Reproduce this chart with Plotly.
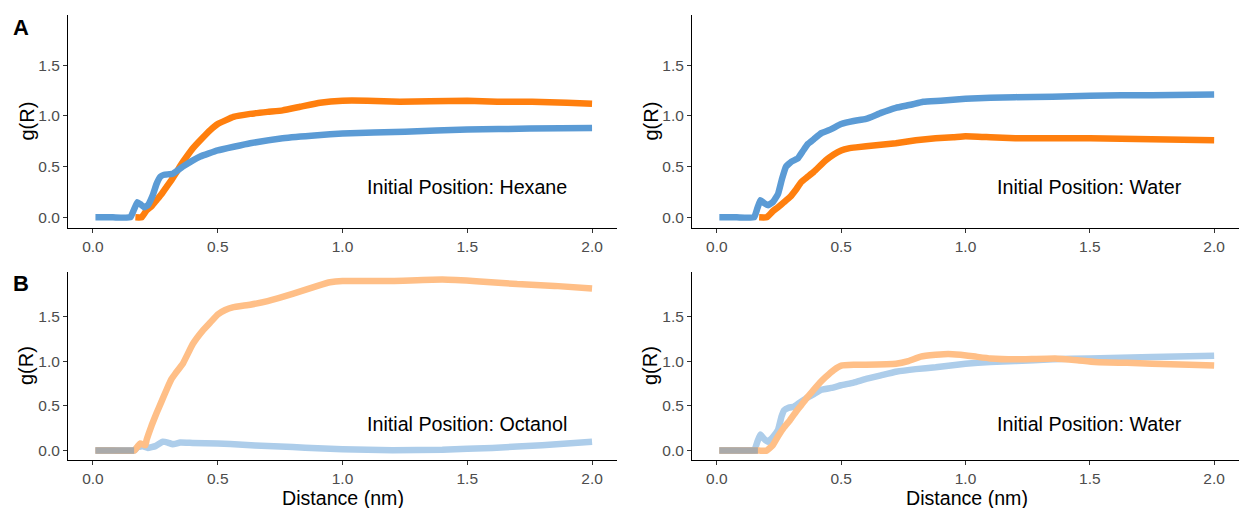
import plotly.graph_objects as go

# ---------------- data ----------------
# Panel A, Initial Position: Hexane
hex_orange_x = [0.17, 0.195, 0.215, 0.235, 0.255, 0.275, 0.295, 0.315, 0.336, 0.356, 0.376, 0.4, 0.43, 0.47, 0.5,
                0.563, 0.63, 0.7, 0.76, 0.83, 0.91, 1.0, 1.1, 1.23, 1.35, 1.5, 1.62, 1.76, 1.9, 2.0]
hex_orange_y = [0, 0, 0.07, 0.11, 0.17, 0.23, 0.3, 0.37, 0.45, 0.53, 0.6, 0.68, 0.76, 0.86, 0.92,
                0.99, 1.02, 1.04, 1.055, 1.09, 1.13, 1.15, 1.15, 1.14, 1.145, 1.15, 1.14, 1.14, 1.13, 1.12]
hex_blue_x = [0.01, 0.08, 0.15, 0.165, 0.178, 0.19, 0.205, 0.22, 0.24, 0.255, 0.27, 0.285, 0.32, 0.36, 0.43, 0.5,
              0.63, 0.76, 0.9, 1.0, 1.25, 1.5, 1.75, 2.0]
hex_blue_y = [0, 0, 0, 0.08, 0.15, 0.13, 0.1, 0.12, 0.22, 0.33, 0.4, 0.42, 0.43, 0.5, 0.6, 0.66,
              0.73, 0.78, 0.81, 0.826, 0.845, 0.865, 0.875, 0.88]

# Panel A, Initial Position: Water
wat_orange_x = [0.17, 0.2, 0.225, 0.246, 0.27, 0.294, 0.32, 0.34, 0.365, 0.39, 0.437, 0.47, 0.5, 0.53, 0.56,
                0.64, 0.72, 0.8, 0.88, 0.95, 1.0, 1.1, 1.2, 1.35, 1.5, 1.75, 2.0]
wat_orange_y = [0, 0, 0.06, 0.1, 0.15, 0.2, 0.28, 0.35, 0.4, 0.45, 0.56, 0.62, 0.66, 0.68, 0.69,
                0.71, 0.73, 0.76, 0.78, 0.79, 0.8, 0.79, 0.78, 0.78, 0.78, 0.77, 0.76]
wat_blue_x = [0.01, 0.08, 0.15, 0.163, 0.175, 0.19, 0.206, 0.225, 0.246, 0.262, 0.278, 0.3, 0.325, 0.345, 0.365, 0.39,
              0.42, 0.46, 0.5, 0.55, 0.6, 0.66, 0.72, 0.78, 0.83, 0.9, 1.0, 1.1, 1.2, 1.35, 1.5, 1.75, 2.0]
wat_blue_y = [0, 0, 0, 0.09, 0.17, 0.14, 0.12, 0.15, 0.23, 0.38, 0.5, 0.55, 0.58, 0.65, 0.72, 0.77,
              0.83, 0.87, 0.92, 0.95, 0.97, 1.03, 1.08, 1.11, 1.14, 1.15, 1.17, 1.18, 1.185, 1.19, 1.2, 1.205, 1.21]

# Panel B, Initial Position: Octanol
oct_orange_x = [0.01, 0.08, 0.165, 0.18, 0.19, 0.2, 0.21, 0.215, 0.235, 0.255, 0.275, 0.295, 0.315, 0.33, 0.36, 0.4,
                0.44, 0.47, 0.5, 0.53, 0.56, 0.63, 0.7, 0.8, 0.9, 0.95, 1.0, 1.2, 1.4, 1.55, 1.7, 1.85, 2.0]
oct_orange_y = [0, 0, 0, 0.05, 0.08, 0.07, 0.06, 0.12, 0.28, 0.42, 0.55, 0.68, 0.8, 0.86, 0.97, 1.19,
                1.34, 1.43, 1.52, 1.57, 1.6, 1.63, 1.67, 1.75, 1.84, 1.88, 1.895, 1.895, 1.91, 1.89, 1.86, 1.84, 1.81]
oct_blue_x = [0.01, 0.08, 0.165, 0.18, 0.2, 0.22, 0.25, 0.28, 0.3, 0.32, 0.35, 0.4, 0.5, 0.6, 0.7, 0.8, 0.9,
              1.0, 1.2, 1.4, 1.6, 1.8, 2.0]
oct_blue_y = [0, 0, 0, 0.04, 0.05, 0.03, 0.05, 0.1, 0.09, 0.07, 0.09, 0.085, 0.08, 0.065, 0.05, 0.04, 0.025,
              0.015, 0.005, 0.01, 0.03, 0.06, 0.1]

# Panel B, Initial Position: Water
bw_orange_x = [0.01, 0.08, 0.17, 0.2, 0.225, 0.246, 0.27, 0.294, 0.32, 0.34, 0.365, 0.39, 0.415, 0.437, 0.47, 0.5, 0.55,
               0.6, 0.72, 0.77, 0.82, 0.88, 0.93, 0.98, 1.04, 1.1, 1.2, 1.36, 1.45, 1.52, 1.65, 1.75, 1.9, 2.0]
bw_orange_y = [0, 0, 0, 0, 0.06, 0.16, 0.26, 0.34, 0.44, 0.51, 0.6, 0.68, 0.76, 0.82, 0.9, 0.95, 0.96,
               0.96, 0.97, 1.0, 1.05, 1.07, 1.08, 1.07, 1.05, 1.03, 1.02, 1.03, 1.01, 0.99, 0.98, 0.97, 0.96, 0.95]
bw_blue_x = [0.01, 0.08, 0.15, 0.163, 0.175, 0.19, 0.206, 0.225, 0.246, 0.26, 0.27, 0.29, 0.31, 0.33, 0.357, 0.39,
             0.42, 0.46, 0.5, 0.55, 0.6, 0.66, 0.72, 0.8, 0.88, 1.0, 1.1, 1.2, 1.35, 1.5, 1.75, 2.0]
bw_blue_y = [0, 0, 0, 0.1, 0.18, 0.13, 0.1, 0.15, 0.23, 0.38, 0.45, 0.48, 0.49, 0.53, 0.58, 0.63,
             0.68, 0.7, 0.73, 0.76, 0.8, 0.84, 0.88, 0.91, 0.93, 0.97, 0.99, 1.0, 1.02, 1.03, 1.045, 1.06]

# overlapping zero region of the two transparent curves (shows grey)
overlap_x = [0.01, 0.165]
overlap_y = [0, 0]

x_ticks = [0, 0.5, 1.0, 1.5, 2.0]
y_ticks = [0, 0.5, 1.0, 1.5]
panel_labels = ["Initial Position: Hexane", "Initial Position: Water",
                "Initial Position: Octanol", "Initial Position: Water"]

# ---------------- style ----------------
ORANGE = "#FF7F0E"
BLUE = "#5B9BD5"
ORANGE_L = "#FFBF87"
BLUE_L = "#ADCDEA"
GREY = "#AAAAAA"
FONT = "Liberation Sans, Arial, sans-serif"
W, H = 1241, 508
LW = 6.5

fig = go.Figure()

def add(x, y, color, xa, ya, name):
    fig.add_trace(go.Scatter(x=x, y=y, mode="lines", name=name,
                             line=dict(color=color, width=LW, shape="spline", smoothing=0.3),
                             xaxis=xa, yaxis=ya, showlegend=False, hoverinfo="skip"))

add(hex_orange_x, hex_orange_y, ORANGE, "x", "y", "orange")
add(hex_blue_x, hex_blue_y, BLUE, "x", "y", "blue")
add(wat_orange_x, wat_orange_y, ORANGE, "x2", "y2", "orange")
add(wat_blue_x, wat_blue_y, BLUE, "x2", "y2", "blue")
add(oct_blue_x, oct_blue_y, BLUE_L, "x3", "y3", "blue")
add(oct_orange_x, oct_orange_y, ORANGE_L, "x3", "y3", "orange")
add(overlap_x, overlap_y, GREY, "x3", "y3", "overlap")
add(bw_blue_x, bw_blue_y, BLUE_L, "x4", "y4", "blue")
add(bw_orange_x, bw_orange_y, ORANGE_L, "x4", "y4", "orange")
add(overlap_x, overlap_y, GREY, "x4", "y4", "overlap")

xl = [68 / W, 617 / W]
xr = [692 / W, 1239 / W]
yt = [(H - 228) / H, (H - 15) / H]
yb = [(H - 460) / H, (H - 272) / H]

TICKFONT = dict(family=FONT, size=15.5, color="#4D4D4D")

def xax(dom, anchor):
    return dict(domain=dom, anchor=anchor, range=[-0.1, 2.1], tickvals=x_ticks, tickformat=".1f",
                showline=True, linecolor="black", linewidth=1.1, ticks="outside", ticklen=4,
                tickcolor="#333333", showgrid=False, zeroline=False, tickfont=TICKFONT)

def yax(dom, anchor):
    return dict(domain=dom, anchor=anchor, range=[-0.105, 1.995], tickvals=y_ticks, tickformat=".1f",
                showline=True, linecolor="black", linewidth=1.1, ticks="outside", ticklen=4,
                tickcolor="#333333", showgrid=False, zeroline=False, tickfont=TICKFONT)

annotations = []
for i, (xa, ya) in enumerate([("x", "y"), ("x2", "y2"), ("x3", "y3"), ("x4", "y4")]):
    annotations.append(dict(x=1.5, y=0.3, xref=xa, yref=ya, text=panel_labels[i], showarrow=False,
                            font=dict(family=FONT, size=19.7, color="black"),
                            xanchor="center", yanchor="middle"))

for xp in [26, 650]:
    for dom in [yt, yb]:
        annotations.append(dict(x=xp / W, y=(dom[0] + dom[1]) / 2, xref="paper", yref="paper",
                                text="g(R)", textangle=-90, showarrow=False,
                                font=dict(family=FONT, size=20, color="black"),
                                xanchor="center", yanchor="middle"))
for xp in [343, 967]:
    annotations.append(dict(x=xp / W, y=(H - 498) / H, xref="paper", yref="paper",
                            text="Distance (nm)", showarrow=False,
                            font=dict(family=FONT, size=19.6, color="black"),
                            xanchor="center", yanchor="middle"))
for lab, yp in [("A", 27), ("B", 283)]:
    annotations.append(dict(x=21 / W, y=(H - yp) / H, xref="paper", yref="paper",
                            text="<b>%s</b>" % lab, showarrow=False,
                            font=dict(family=FONT, size=22, color="black"),
                            xanchor="center", yanchor="middle"))

fig.update_layout(
    width=W, height=H, margin=dict(l=0, r=0, t=0, b=0),
    paper_bgcolor="white", plot_bgcolor="white",
    xaxis=xax(xl, "y"), yaxis=yax(yt, "x"),
    xaxis2=xax(xr, "y2"), yaxis2=yax(yt, "x2"),
    xaxis3=xax(xl, "y3"), yaxis3=yax(yb, "x3"),
    xaxis4=xax(xr, "y4"), yaxis4=yax(yb, "x4"),
    annotations=annotations,
)

fig.write_html("out.html")
